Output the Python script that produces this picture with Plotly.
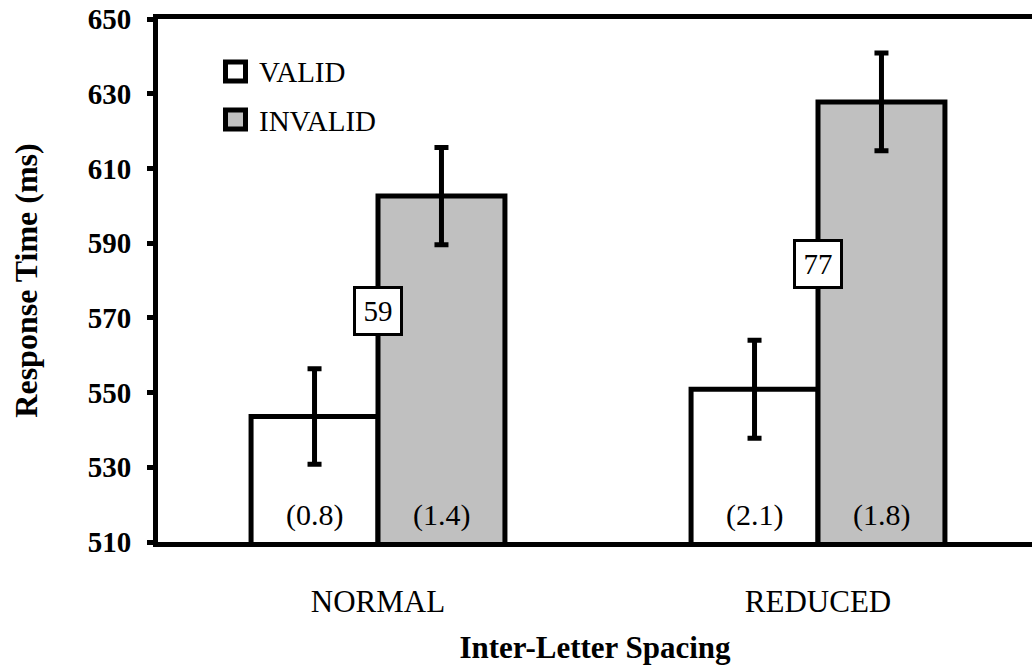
import plotly.graph_objects as go

# Response times by inter-letter spacing and cue validity
spacing = ["NORMAL", "REDUCED"]
valid_rt = [543.6, 550.9]
invalid_rt = [602.6, 627.8]
valid_err = [12.8, 13.1]
invalid_err = [13.0, 13.1]
# error-rate percentages printed at the foot of each bar
valid_pct = ["(0.8)", "(2.1)"]
invalid_pct = ["(1.4)", "(1.8)"]
# validity effect (invalid - valid) shown in boxes
effect_labels = ["59", "77"]
effect_y = [571.8, 584.5]

FONT = "Liberation Serif"
W, H = 1032, 672
M_L, M_R, M_T, M_B = 158, 0, 19, 130
BARGAP = 0.423
bar_w = (1 - BARGAP) / 2
x_idx = list(range(len(spacing)))

fig = go.Figure()
fig.add_trace(go.Bar(
    name="VALID", x=x_idx, y=valid_rt,
    marker=dict(color="white", line=dict(color="black", width=5)),
    error_y=dict(type="data", array=valid_err, color="black", thickness=5, width=7),
))
fig.add_trace(go.Bar(
    name="INVALID", x=x_idx, y=invalid_rt,
    marker=dict(color="#c0c0c0", line=dict(color="black", width=5)),
    error_y=dict(type="data", array=invalid_err, color="black", thickness=5, width=7),
))

annotations = []
for i in x_idx:
    annotations.append(dict(x=i - bar_w / 2, y=517.2, xref="x", yref="y",
                            text=valid_pct[i], showarrow=False,
                            xanchor="center", yanchor="middle",
                            font=dict(family=FONT, size=30, color="black")))
    annotations.append(dict(x=i + bar_w / 2, y=517.2, xref="x", yref="y",
                            text=invalid_pct[i], showarrow=False,
                            xanchor="center", yanchor="middle",
                            font=dict(family=FONT, size=30, color="black")))
    annotations.append(dict(x=i, y=effect_y[i], xref="x", yref="y",
                            text=effect_labels[i], showarrow=False,
                            xanchor="center", yanchor="middle",
                            bgcolor="white", bordercolor="black", borderwidth=3,
                            borderpad=2, width=40, height=40,
                            font=dict(family=FONT, size=29, color="black")))

# hand-drawn legend in pixel space
pw, ph = W - M_L - M_R, H - M_T - M_B
def px(x):
    return (x - M_L) / pw
def py(y):
    return 1 - (y - M_T) / ph

shapes = []
legend_items = [("VALID", "white", 71.5), ("INVALID", "#c0c0c0", 119.5)]
for label, fill, cy in legend_items:
    shapes.append(dict(type="rect", xref="paper", yref="paper",
                       x0=px(225.5), x1=px(245.5), y0=py(cy + 9.5), y1=py(cy - 9.5),
                       fillcolor=fill, line=dict(color="black", width=5)))
    annotations.append(dict(x=px(257), y=py(cy + 1), xref="paper", yref="paper",
                            text=label, showarrow=False,
                            xanchor="left", yanchor="middle",
                            font=dict(family=FONT, size=29, color="black")))

fig.update_layout(
    width=W, height=H,
    margin=dict(l=M_L, r=M_R, t=M_T, b=M_B),
    barmode="group", bargap=BARGAP, bargroupgap=0,
    plot_bgcolor="white", paper_bgcolor="white",
    showlegend=False,
    shapes=shapes, annotations=annotations,
    font=dict(family=FONT, color="black"),
)
fig.update_xaxes(
    range=[-0.5, (W - M_R - 378) / 440], tickmode="array", tickvals=x_idx, ticktext=spacing,
    showline=True, linecolor="black", linewidth=5, mirror=True,
    ticks="", showgrid=False, zeroline=False,
    tickfont=dict(family=FONT, size=31), ticklabelstandoff=28,
    title=dict(text="<b>Inter-Letter Spacing</b>", font=dict(family=FONT, size=31), standoff=20),
)
fig.update_yaxes(
    range=[510, 650], tickmode="linear", tick0=510, dtick=20,
    showline=True, linecolor="black", linewidth=5,
    ticks="outside", ticklen=6, tickwidth=5, tickcolor="black",
    showgrid=False, zeroline=False,
    tickfont=dict(family=FONT, size=29), ticklabelstandoff=10,
    tickprefix="<b>", ticksuffix="</b>",
    title=dict(text="<b>Response Time (ms)</b>", font=dict(family=FONT, size=32), standoff=42),
)

fig.write_html("out.html")
